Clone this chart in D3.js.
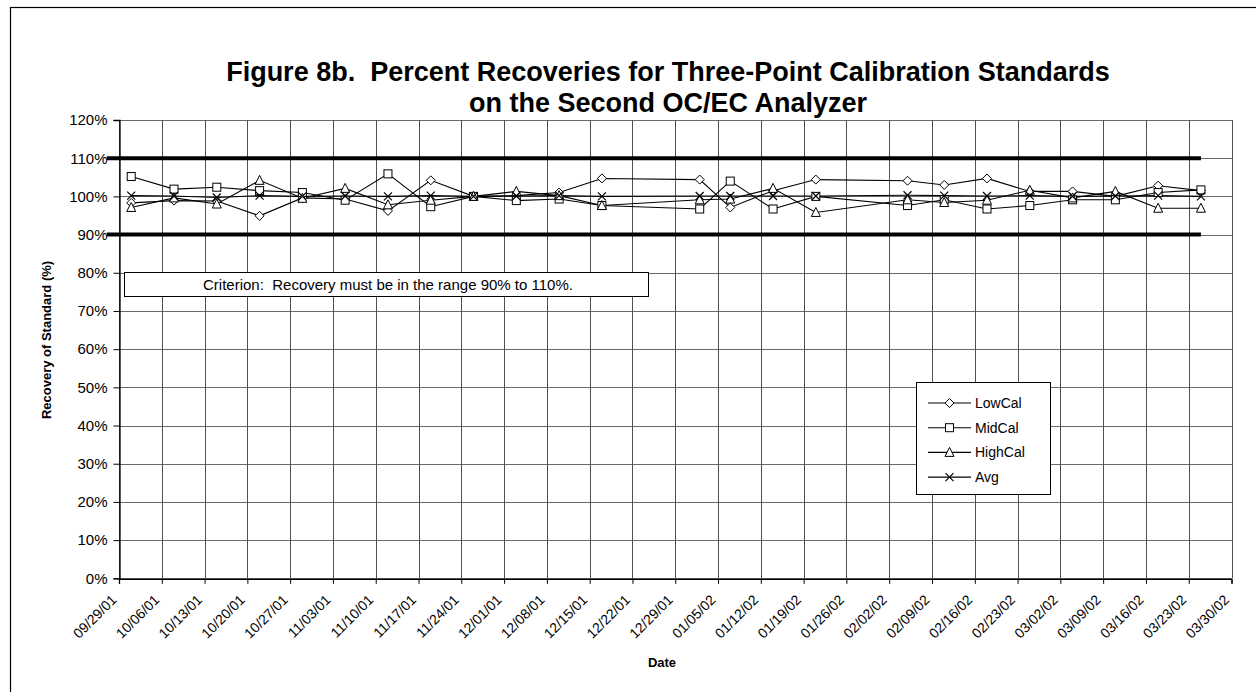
<!DOCTYPE html>
<html>
<head>
<meta charset="utf-8">
<script src="https://cdn.jsdelivr.net/npm/d3@7"></script>
<style>
  html, body { margin: 0; padding: 0; background: #fff; }
  svg { display: block; font-family: "Liberation Sans", Arial, sans-serif; }
  .pre { white-space: pre; }
</style>
</head>
<body>
<svg id="chart" width="1256" height="692"></svg>
<script>
// Sampling dates (m/d/y) and recoveries (%) for the three calibration levels
const sampleDates = ["10/01/01","10/08/01","10/15/01","10/22/01","10/29/01","11/05/01","11/12/01","11/19/01",
  "11/26/01","12/03/01","12/10/01","12/17/01","01/02/02","01/07/02","01/14/02","01/21/02",
  "02/05/02","02/11/02","02/18/02","02/25/02","03/04/02","03/11/02","03/18/02","03/25/02"];
const lowCal  = [98.3, 98.9, 98.8, 94.9, 99.6, 99.3, 96.2, 104.2, 100.0, 100.2, 101.0, 104.7,
                 104.4, 97.1, 101.5, 104.4, 104.1, 103.0, 104.7, 101.3, 101.3, 100.0, 102.8, 101.5];
const midCal  = [105.2, 101.9, 102.4, 101.5, 101.0, 99.0, 105.9, 97.3, 100.0, 98.9, 99.3, 97.6,
                 96.7, 104.0, 96.7, 100.0, 97.6, 99.1, 96.7, 97.6, 99.1, 99.1, 101.0, 101.7];
const highCal = [97.1, 99.6, 98.0, 104.2, 99.5, 102.1, 97.8, 99.0, 100.0, 101.3, 100.2, 97.6,
                 99.1, 99.3, 102.1, 95.8, 99.1, 98.4, 99.0, 101.6, 99.6, 101.3, 96.9, 96.9];
const avgCal  = [100.2, 100.1, 99.7, 100.2, 100.0, 100.1, 100.0, 100.2, 100.0, 100.1, 100.2, 100.0,
                 100.1, 100.1, 100.1, 100.1, 100.3, 100.2, 100.1, 100.2, 100.0, 100.1, 100.2, 100.0];
const seriesNames = ["LowCal", "MidCal", "HighCal", "Avg"];

// Axis ticks
const weekLabels = ["09/29/01","10/06/01","10/13/01","10/20/01","10/27/01","11/03/01","11/10/01","11/17/01",
  "11/24/01","12/01/01","12/08/01","12/15/01","12/22/01","12/29/01","01/05/02","01/12/02","01/19/02",
  "01/26/02","02/02/02","02/09/02","02/16/02","02/23/02","03/02/02","03/09/02","03/16/02","03/23/02","03/30/02"];
const yTicks = [0, 10, 20, 30, 40, 50, 60, 70, 80, 90, 100, 110, 120];

// Acceptance limits (%) and the span they are drawn over
const limits = [90, 110];
const limitSpan = ["09/27/01", "03/25/02"];

const parse = d3.utcParse("%m/%d/%y");
const svg = d3.select("#chart");

const plot = { left: 119, right: 1231.5, top: 120, bottom: 578.3 };

const x = d3.scaleUtc()
  .domain([parse(weekLabels[0]), parse(weekLabels[weekLabels.length - 1])])
  .range([plot.left, plot.right]);
const y = d3.scaleLinear().domain([0, 120]).range([plot.bottom, plot.top]);

// outer frame
svg.append("rect")
  .attr("x", 10.5).attr("y", 7.5).attr("width", 1300).attr("height", 800)
  .attr("fill", "none").attr("stroke", "#000").attr("stroke-width", 1.2);

// title
const title = svg.append("text")
  .attr("class", "pre")
  .attr("text-anchor", "middle").attr("font-weight", "bold").attr("font-size", 27);
title.append("tspan").attr("x", 668).attr("y", 81)
  .text("Figure 8b.  Percent Recoveries for Three-Point Calibration Standards");
title.append("tspan").attr("x", 668).attr("y", 112)
  .text("on the Second OC/EC Analyzer");

// gridlines
const grid = svg.append("g").attr("shape-rendering", "crispEdges");
grid.selectAll("line.h").data(yTicks).join("line")
  .attr("class", "h")
  .attr("x1", plot.left).attr("x2", plot.right)
  .attr("y1", d => Math.round(y(d)) + 0.5).attr("y2", d => Math.round(y(d)) + 0.5)
  .attr("stroke", "#6a6a6a");
grid.selectAll("line.v").data(weekLabels.map(parse)).join("line")
  .attr("class", "v")
  .attr("y1", plot.top).attr("y2", plot.bottom)
  .attr("x1", d => Math.round(x(d)) + 0.5).attr("x2", d => Math.round(x(d)) + 0.5)
  .attr("stroke", "#505050");

// y axis
const yAxis = d3.axisLeft(y).tickValues(yTicks).tickFormat(d => d + "%").tickSize(6).tickPadding(6);
const gy = svg.append("g")
  .attr("transform", `translate(${plot.left + 0.5},0)`)
  .call(yAxis);
gy.select(".domain").attr("stroke", "#000").attr("stroke-width", 1.3);
gy.selectAll("text").attr("font-size", 15).attr("font-family", "Liberation Sans, Arial, sans-serif").attr("fill", "#000");
gy.selectAll(".tick line").attr("stroke", "#000");

// x axis
const xAxis = d3.axisBottom(x).tickValues(weekLabels.map(parse)).tickFormat(d3.utcFormat("%m/%d/%y")).tickSize(5);
const gx = svg.append("g")
  .attr("transform", `translate(0,${plot.bottom + 0.5})`)
  .call(xAxis);
gx.select(".domain").attr("stroke", "#000").attr("stroke-width", 1.3);
gx.selectAll(".tick line").attr("stroke", "#000");
gx.selectAll("text")
  .attr("font-size", 14).attr("font-family", "Liberation Sans, Arial, sans-serif").attr("fill", "#000")
  .attr("text-anchor", "end")
  .attr("dy", "0").attr("y", 0)
  .attr("transform", "translate(-2,22) rotate(-45)");

// axis titles
svg.append("text")
  .attr("x", 662).attr("y", 667).attr("text-anchor", "middle")
  .attr("font-weight", "bold").attr("font-size", 13).text("Date");
svg.append("text")
  .attr("transform", "translate(51,340) rotate(-90)").attr("text-anchor", "middle")
  .attr("font-weight", "bold").attr("font-size", 13).text("Recovery of Standard (%)");

// acceptance limits
svg.append("g").selectAll("line").data(limits).join("line")
  .attr("x1", x(parse(limitSpan[0]))).attr("x2", x(parse(limitSpan[1])))
  .attr("y1", d => y(d)).attr("y2", d => y(d))
  .attr("stroke", "#000").attr("stroke-width", 4);

// criterion note
const note = svg.append("g");
note.append("rect")
  .attr("x", 124.5).attr("y", 272.5).attr("width", 524).attr("height", 24)
  .attr("fill", "#fff").attr("stroke", "#000").attr("stroke-width", 1);
note.append("text")
  .attr("class", "pre")
  .attr("x", 388).attr("y", 290).attr("text-anchor", "middle").attr("font-size", 15)
  .text("Criterion:  Recovery must be in the range 90% to 110%.");

// markers
function drawMarker(g, kind, cx, cy) {
  const s = 4;
  if (kind === "LowCal") {
    g.append("path").attr("d", `M${cx},${cy - s - 0.5}L${cx + s + 0.5},${cy}L${cx},${cy + s + 0.5}L${cx - s - 0.5},${cy}Z`)
      .attr("fill", "#fff").attr("stroke", "#000");
  } else if (kind === "MidCal") {
    g.append("rect").attr("x", cx - s).attr("y", cy - s).attr("width", 2 * s).attr("height", 2 * s)
      .attr("fill", "#fff").attr("stroke", "#000");
  } else if (kind === "HighCal") {
    g.append("path").attr("d", `M${cx},${cy - s - 1}L${cx + s + 0.5},${cy + s}L${cx - s - 0.5},${cy + s}Z`)
      .attr("fill", "#fff").attr("stroke", "#000");
  } else {
    g.append("path").attr("d", `M${cx - s},${cy - s}L${cx + s},${cy + s}M${cx + s},${cy - s}L${cx - s},${cy + s}`)
      .attr("fill", "none").attr("stroke", "#000").attr("stroke-width", 1.2);
  }
}

const seriesValues = { LowCal: lowCal, MidCal: midCal, HighCal: highCal, Avg: avgCal };
const dates = sampleDates.map(parse);
const line = d3.line().x(d => x(d[0])).y(d => y(d[1]));

const seriesG = svg.append("g");
seriesNames.forEach(name => {
  const pts = dates.map((d, i) => [d, seriesValues[name][i]]);
  seriesG.append("path").attr("d", line(pts))
    .attr("fill", "none").attr("stroke", "#000").attr("stroke-width", 1.1);
});
seriesNames.forEach(name => {
  const g = seriesG.append("g");
  dates.forEach((d, i) => drawMarker(g, name, x(d), y(seriesValues[name][i])));
});

// legend
const legend = svg.append("g");
legend.append("rect")
  .attr("x", 916.5).attr("y", 382.5).attr("width", 134).attr("height", 112)
  .attr("fill", "#fff").attr("stroke", "#000");
seriesNames.forEach((name, i) => {
  const ly = 403 + i * 24.7;
  legend.append("line").attr("x1", 928).attr("x2", 971).attr("y1", ly).attr("y2", ly)
    .attr("stroke", "#000").attr("stroke-width", 1.1);
  drawMarker(legend, name, 949.5, ly);
  legend.append("text").attr("x", 975).attr("y", ly + 5).attr("font-size", 14).text(name);
});
</script>
</body>
</html>
